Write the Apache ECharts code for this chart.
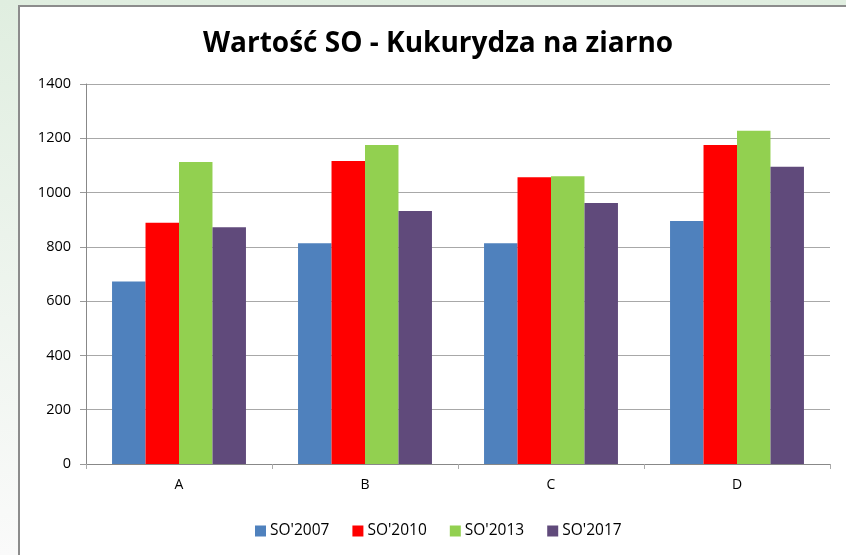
<!DOCTYPE html>
<html lang="pl">

<head>
  <meta charset="UTF-8">
  <title>Wartość SO - Kukurydza na ziarno</title>
  <style>
    html,
    body {
      margin: 0;
      height: 100%;
      width: 100%;
    }
  </style>
</head>

<body>
  <div id="chart" style="width:846px;height:555px"></div>
  <script src="https://cdn.jsdelivr.net/npm/echarts@6/dist/echarts.min.js"></script>
  <script>
    const categories = ['A', 'B', 'C', 'D']
    const seriesNames = ["SO'2007", "SO'2010", "SO'2013", "SO'2017"]
    const so2007 = [672, 813, 813, 895]
    const so2010 = [889, 1116, 1056, 1175]
    const so2013 = [1113, 1175, 1060, 1228]
    const so2017 = [872, 932, 962, 1095]
    const colors = ['#4f81bd', '#ff0000', '#92d050', '#604a7b']

    const values = [so2007, so2010, so2013, so2017]

    const series = seriesNames.map((name, i) => {
      return {
        name: name,
        type: 'bar',
        data: values[i],
        barGap: 0,
        barCategoryGap: '28%',
        itemStyle: {
          color: colors[i]
        }
      }
    })

    const option = {
      animation: false,
      backgroundColor: new echarts.graphic.LinearGradient(0, 0, 0, 1, [{
        offset: 0,
        color: '#e0eee0'
      }, {
        offset: 1,
        color: '#fafafa'
      }]),
      graphic: [{
        type: 'rect',
        left: 18,
        top: 5,
        shape: { width: 840, height: 560 },
        style: { fill: '#ffffff', stroke: '#8c8c8c', lineWidth: 2 },
        z: -10
      }],
      title: {
        text: 'Wartość SO - Kukurydza na ziarno',
        left: 198,
        top: 25,
        textStyle: {
          fontFamily: 'Open Sans',
          fontWeight: 'bold',
          fontSize: 28,
          color: '#000'
        }
      },
      legend: {
        top: 518,
        left: 250,
        itemWidth: 11,
        itemHeight: 11,
        itemGap: 23,
        icon: 'rect',
        selectedMode: false,
        textStyle: {
          fontFamily: 'Open Sans',
          fontSize: 15.5,
          color: '#000',
          padding: [0, 0, 0, -1]
        },
        data: seriesNames
      },
      grid: {
        left: 86,
        right: 16,
        top: 84,
        bottom: 91
      },
      xAxis: {
        type: 'category',
        data: categories,
        axisLine: { lineStyle: { color: '#888', width: 1 } },
        axisTick: { show: true, length: 5, lineStyle: { color: '#aaa' } },
        axisLabel: {
          fontFamily: 'Open Sans',
          fontSize: 14,
          color: '#000',
          margin: 14
        }
      },
      yAxis: {
        type: 'value',
        min: 0,
        max: 1400,
        interval: 200,
        axisLine: { show: true, lineStyle: { color: '#888', width: 1 } },
        axisTick: { show: true, length: 6, lineStyle: { color: '#999' } },
        axisLabel: {
          fontFamily: 'Open Sans',
          fontSize: 14.5,
          color: '#000',
          margin: 15,
          formatter: (v) => String(v)
        },
        splitLine: { lineStyle: { color: '#a8a8a8', width: 1 } }
      },
      series: series
    }

    const myChart = echarts.init(document.getElementById('chart'))
    myChart.setOption(option)
  </script>

</body>

</html>
